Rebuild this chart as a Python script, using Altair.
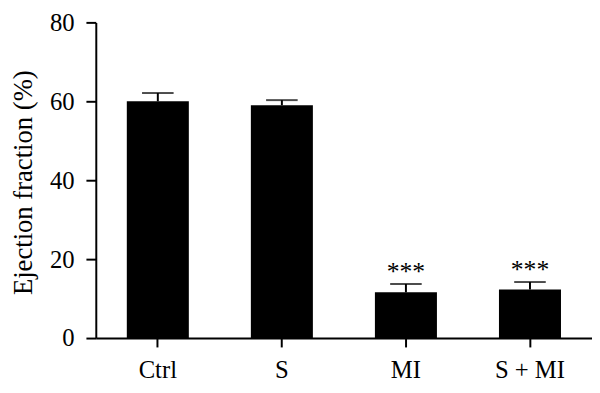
import altair as alt
import pandas as pd

groups = ["Ctrl", "S", "MI", "S + MI"]
means = [60.0, 59.0, 11.6, 12.3]
err_top = [62.1, 60.3, 13.7, 14.2]
stars = ["", "", "***", "***"]

df = pd.DataFrame({"group": groups, "mean": means, "top": err_top, "star": stars})

FONT = "Liberation Serif"

x = alt.X("group:N", sort=groups,
          scale=alt.Scale(paddingInner=0.5, paddingOuter=0.25),
          axis=alt.Axis(title=None, labelAngle=0, labelFont=FONT, labelFontSize=25,
                        labelColor="black", domainColor="black", domainWidth=2,
                        tickColor="black", tickWidth=2, tickSize=9, labelPadding=11))

y_axis = alt.Axis(title="Ejection fraction (%)", values=[0, 20, 40, 60, 80], grid=False,
                  labelFont=FONT, labelFontSize=25, labelColor="black",
                  titleFont=FONT, titleFontSize=27, titleFontWeight="normal", titleColor="black",
                  domainColor="black", domainWidth=2, tickColor="black", tickWidth=2,
                  tickSize=10, labelPadding=12, titleX=-65, titleY=162,
                  titleBaseline="alphabetic", titleAlign="center", titleAngle=270)

base = alt.Chart(df)

bars = base.mark_bar(color="black").encode(
    x=x,
    y=alt.Y("mean:Q", scale=alt.Scale(domain=[0, 80], nice=False), axis=y_axis),
)

rule = base.mark_rule(color="black", strokeWidth=2).encode(
    x=alt.X("group:N", sort=groups), y="mean:Q", y2="top:Q")

cap = base.mark_tick(color="black", orient="horizontal", size=32, thickness=2).encode(
    x=alt.X("group:N", sort=groups), y="top:Q")

txt = base.mark_text(font=FONT, fontSize=26, color="black", baseline="alphabetic", dy=-4).encode(
    x=alt.X("group:N", sort=groups), y="top:Q", text="star:N")

chart = alt.layer(bars, rule, cap, txt).properties(
    width=503, height=320,
    autosize=alt.AutoSizeParams(type="none"),
    padding={"left": 89, "top": 12, "right": 0, "bottom": 45},
).configure_view(stroke=None)

chart.save("out.html", embed_options={"renderer": "svg", "actions": False})
